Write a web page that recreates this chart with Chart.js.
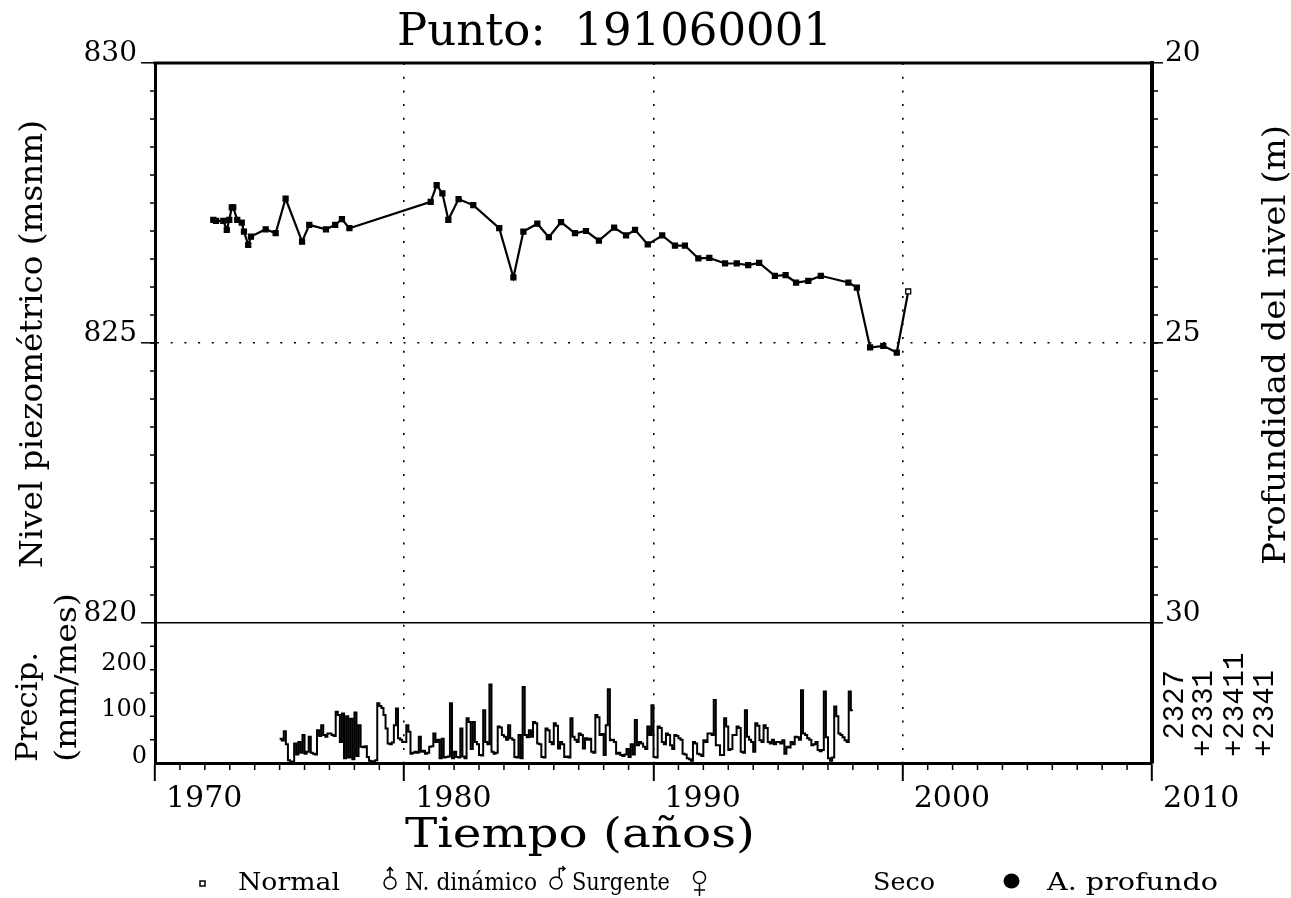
<!DOCTYPE html>
<html>
<head>
<meta charset="utf-8">
<script src="https://cdn.jsdelivr.net/npm/chart.js@4.4.1/dist/chart.umd.min.js"></script>
<style>
  html, body { margin: 0; padding: 0; background: #fff; }
  #wrap { width: 1291px; height: 898px; }
</style>
</head>
<body>
<div id="wrap"><canvas id="chart" width="1291" height="898"></canvas></div>
<script>
// ==================== DATOS ====================
const tituloPunto = 'Punto:  191060001';

// Nivel piezométrico medido (fecha decimal, msnm)
const nivelFechas = [1972.34, 1972.45, 1972.74, 1972.88, 1972.98, 1973.08, 1973.14, 1973.30, 1973.48, 1973.57,
    1973.74, 1973.85, 1974.44, 1974.84, 1975.24, 1975.90, 1976.19, 1976.86, 1977.23, 1977.50,
    1977.80, 1981.06, 1981.30, 1981.53, 1981.77, 1982.18, 1982.77, 1983.81, 1984.38, 1984.78,
    1985.34, 1985.80, 1986.29, 1986.85, 1987.29, 1987.81, 1988.42, 1988.90, 1989.26, 1989.77,
    1990.35, 1990.86, 1991.26, 1991.80, 1992.24, 1992.87, 1993.34, 1993.80, 1994.24, 1994.87,
    1995.30, 1995.72, 1996.21, 1996.71, 1997.82, 1998.16, 1998.69, 1999.22, 1999.76, 2000.22];
const nivelMsnm = [827.20, 827.18, 827.18, 827.02, 827.20, 827.42, 827.42, 827.20, 827.15, 826.99,
    826.75, 826.90, 827.03, 826.96, 827.58, 826.81, 827.11, 827.03, 827.11, 827.21,
    827.05, 827.52, 827.82, 827.67, 827.20, 827.57, 827.46, 827.05, 826.17, 826.99,
    827.13, 826.89, 827.16, 826.96, 827.00, 826.83, 827.06, 826.92, 827.02, 826.76,
    826.92, 826.74, 826.74, 826.51, 826.52, 826.42, 826.42, 826.39, 826.43, 826.20,
    826.21, 826.08, 826.11, 826.20, 826.08, 825.99, 824.92, 824.95, 824.83, 825.92];

// Precipitación mensual (mm/mes), un renglón por año
const precipAnios = [1975, 1976, 1977, 1978, 1979, 1980, 1981, 1982, 1983, 1984, 1985, 1986,
    1987, 1988, 1989, 1990, 1991, 1992, 1993, 1994, 1995, 1996, 1997];
const precipMm = [
    [52, 48, 68, 40, 6, 2, 3, 42, 18, 45, 22, 60],
    [20, 24, 56, 22, 20, 18, 70, 58, 81, 60, 56, 63],
    [63, 60, 58, 110, 103, 45, 106, 10, 100, 12, 95, 8],
    [108, 15, 81, 35, 34, 36, 13, 5, 3, 4, 6, 128],
    [122, 118, 103, 74, 42, 40, 44, 81, 117, 53, 50, 45],
    [45, 81, 67, 20, 22, 24, 22, 56, 24, 26, 20, 22],
    [35, 36, 63, 45, 50, 10, 52, 12, 13, 14, 128, 10],
    [24, 13, 12, 74, 14, 10, 96, 88, 30, 88, 45, 40],
    [17, 16, 113, 45, 40, 168, 24, 20, 22, 78, 76, 60],
    [56, 50, 81, 53, 50, 13, 12, 60, 10, 163, 60, 55],
    [70, 56, 88, 85, 42, 40, 13, 12, 74, 70, 45, 40],
    [85, 80, 31, 45, 40, 13, 14, 12, 96, 56, 50, 45],
    [63, 60, 31, 53, 50, 52, 24, 22, 103, 98, 60, 62],
    [17, 81, 158, 49, 50, 45, 20, 22, 17, 15, 18, 30],
    [13, 40, 18, 92, 38, 45, 42, 35, 30, 78, 60, 124],
    [13, 12, 78, 75, 45, 40, 63, 60, 38, 30, 60, 58],
    [53, 50, 20, 18, 10, 8, 5, 45, 42, 20, 18, 15],
    [49, 45, 63, 63, 60, 135, 38, 38, 17, 17, 96, 78],
    [28, 30, 60, 60, 78, 75, 24, 22, 113, 56, 50, 45],
    [24, 85, 80, 49, 45, 81, 75, 45, 42, 50, 40, 45],
    [45, 42, 49, 20, 35, 33, 45, 40, 56, 55, 50, 156],
    [63, 60, 53, 50, 38, 40, 45, 28, 25, 28, 153, 55],
    [10, 5, 12, 121, 100, 63, 60, 55, 49, 45, 153, 113]
];

// Ejes
const ticksTiempo = [1970, 1980, 1990, 2000, 2010];
const ticksNivel = [820, 825, 830];
const ticksProfundidad = [20, 25, 30];
const ticksPrecip = [0, 100, 200];
const estaciones = [' 2327', '+2331', '+23411', '+2341'];
const leyenda = ['Normal', 'N. dinámico', 'Surgente', 'Seco', 'A. profundo'];

// ==================== SERIES ====================
const puntosNivel = nivelFechas.map((f, i) => ({ x: f, y: nivelMsnm[i] }));
const ultimoNivel = puntosNivel.length - 1;

const puntosPrecip = [];
precipAnios.forEach((anio, i) => {
    precipMm[i].forEach((mm, m) => puntosPrecip.push({ x: anio + m / 12, y: mm }));
});
// cierra el último escalón al final del mes
const ultimoMes = puntosPrecip[puntosPrecip.length - 1];
puntosPrecip.push({ x: precipAnios[precipAnios.length - 1] + 1, y: ultimoMes.y });

// ==================== DIBUJO ====================
const SERIF = '"DejaVu Serif", "Liberation Serif", serif';
const MONO = '"Liberation Mono", "DejaVu Sans Mono", monospace';

// texto con ancho fijo (estirado/comprimido horizontalmente)
function rotulo(ctx, txt, x, y, size, ancho, ang, familia) {
    ctx.save();
    ctx.translate(x, y);
    if (ang) ctx.rotate(ang);
    ctx.font = size + 'px ' + (familia || SERIF);
    if (ancho) ctx.scale(ancho / ctx.measureText(txt).width, 1);
    ctx.textAlign = 'left';
    ctx.textBaseline = 'alphabetic';
    ctx.fillText(txt, 0, 0);
    ctx.restore();
}

function simboloFlecha(ctx, cx, cy, r, lateral) {
    ctx.beginPath();
    ctx.arc(cx, cy, r, 0, Math.PI * 2);
    if (lateral) {
        const x0 = cx + r * 0.55;
        ctx.moveTo(x0, cy - r * 0.8);
        ctx.lineTo(x0, cy - r * 2.4);
        ctx.lineTo(x0 + r * 0.9, cy - r * 2.4);
        ctx.moveTo(x0 + r * 0.5, cy - r * 2.8);
        ctx.lineTo(x0 + r * 0.95, cy - r * 2.4);
        ctx.lineTo(x0 + r * 0.5, cy - r * 2.0);
    } else {
        ctx.moveTo(cx, cy - r);
        ctx.lineTo(cx, cy - r * 2.5);
        ctx.moveTo(cx - r * 0.5, cy - r * 2.0);
        ctx.lineTo(cx, cy - r * 2.6);
        ctx.lineTo(cx + r * 0.5, cy - r * 2.0);
    }
    ctx.stroke();
}

const marco = {
    id: 'marco',
    afterDraw(chart) {
        const { ctx, chartArea: a } = chart;
        const { x, y, yP, yProf } = chart.scales;
        ctx.save();
        ctx.strokeStyle = '#000';
        ctx.fillStyle = '#000';

        // borde superior
        ctx.lineWidth = 3;
        ctx.beginPath();
        ctx.moveTo(a.left - 1.5, a.top);
        ctx.lineTo(a.right + 2, a.top);
        ctx.stroke();

        // marcas menores de los ejes
        ctx.lineWidth = 1.5;
        ctx.beginPath();
        for (let v = 820.5; v < 830; v += 0.5) {
            const py = y.getPixelForValue(v);
            ctx.moveTo(a.left - 5, py); ctx.lineTo(a.left, py);
        }
        for (let v = 20.5; v < 30; v += 0.5) {
            const py = yProf.getPixelForValue(v);
            ctx.moveTo(a.right, py); ctx.lineTo(a.right + 6, py);
        }
        for (let v = 50; v < 300; v += 50) {
            const py = yP.getPixelForValue(v);
            ctx.moveTo(a.left - 5, py); ctx.lineTo(a.left, py);
        }
        for (let yr = 1971; yr < 2010; yr++) {
            if (yr % 10 === 0) continue;
            const px = x.getPixelForValue(yr);
            ctx.moveTo(px, a.bottom); ctx.lineTo(px, a.bottom + 7);
        }
        ctx.stroke();

        // etiquetas del eje de precipitación
        ctx.font = '24px ' + SERIF;
        ctx.textAlign = 'right';
        ctx.textBaseline = 'alphabetic';
        ticksPrecip.forEach(v => ctx.fillText(String(v), 147, yP.getPixelForValue(v)));

        // título
        rotulo(ctx, tituloPunto, 397, 45, 45, 435);

        // títulos de ejes
        rotulo(ctx, 'Nivel piezométrico (msnm)', 42, 568, 32, 448, -Math.PI / 2);
        rotulo(ctx, 'Profundidad del nivel (m)', 1285, 565, 32, 440, -Math.PI / 2);
        rotulo(ctx, 'Precip.', 37, 762, 30, 110, -Math.PI / 2);
        rotulo(ctx, '(mm/mes)', 76, 762, 30, 169, -Math.PI / 2);
        rotulo(ctx, 'Tiempo (años)', 405, 847, 41, 350);

        // claves de estaciones pluviométricas
        const colEst = [1183, 1212, 1243, 1273];
        estaciones.forEach((t, i) => rotulo(ctx, t, colEst[i], 757, 29, null, -Math.PI / 2, MONO));

        // leyenda de tipos de medida
        ctx.lineWidth = 1.5;
        ctx.strokeRect(200, 881, 5, 5);
        simboloFlecha(ctx, 390, 883, 6, false);
        simboloFlecha(ctx, 556, 883, 6, true);
        ctx.beginPath();
        ctx.arc(699.5, 877.5, 6, 0, Math.PI * 2);
        ctx.moveTo(699.5, 883.5); ctx.lineTo(699.5, 896);
        ctx.moveTo(694, 890); ctx.lineTo(705, 890);
        ctx.stroke();
        ctx.beginPath();
        ctx.ellipse(1011.5, 881, 8, 7.5, 0, 0, Math.PI * 2);
        ctx.fill();

        const posLey = [[238, 102], [405, 132], [572, 98], [873, 62], [1047, 171]];
        leyenda.forEach((t, i) => rotulo(ctx, t, posLey[i][0], 890, 25, posLey[i][1]));

        ctx.restore();
    }
};

const transparente = 'rgba(0,0,0,0)';

new Chart(document.getElementById('chart'), {
    type: 'line',
    data: {
        datasets: [
            {
                label: 'Nivel',
                data: puntosNivel,
                yAxisID: 'y',
                borderColor: '#000',
                borderWidth: 2.2,
                tension: 0,
                pointStyle: 'rect',
                pointRadius: 3.5,
                pointBorderWidth: 1.3,
                pointBorderColor: '#000',
                pointBackgroundColor: c => c.dataIndex === ultimoNivel ? '#fff' : '#000'
            },
            {
                label: 'Precipitación',
                data: puntosPrecip,
                yAxisID: 'yP',
                stepped: true,
                borderColor: '#000',
                borderWidth: 2,
                pointRadius: 0
            }
        ]
    },
    options: {
        responsive: false,
        animation: false,
        layout: { padding: { top: 63, left: 0, right: 0, bottom: 0 } },
        plugins: { legend: { display: false }, tooltip: { enabled: false } },
        scales: {
            x: {
                type: 'linear',
                position: 'bottom',
                min: 1970,
                max: 2010,
                afterBuildTicks: s => { s.ticks = ticksTiempo.map(v => ({ value: v })); },
                afterFit: s => { s.height = 135; },
                grid: {
                    color: c => (c.tick && c.tick.value > 1970 && c.tick.value < 2010) ? '#000' : transparente,
                    lineWidth: 1.6,
                    tickColor: '#000',
                    tickLength: 18,
                    tickWidth: 2
                },
                border: { color: '#000', width: 3, dash: [2, 11.7] },
                ticks: {
                    color: '#000',
                    font: { family: SERIF, size: 30 },
                    align: 'start',
                    labelOffset: 11,
                    padding: 0,
                    maxRotation: 0,
                    autoSkip: false,
                    callback: v => String(v)
                }
            },
            y: {
                type: 'linear',
                position: 'left',
                min: 817.5,
                max: 830,
                afterBuildTicks: s => { s.ticks = ticksNivel.map(v => ({ value: v })); },
                afterFit: s => { s.width = 155; },
                grid: {
                    color: c => (c.tick && c.tick.value === 825) ? '#000' : transparente,
                    lineWidth: 1.6,
                    tickColor: '#000',
                    tickLength: 14,
                    tickWidth: 1.5
                },
                border: { color: '#000', width: 3, dash: [2, 11.7] },
                ticks: {
                    color: '#000',
                    font: { family: SERIF, size: 28 },
                    padding: 4,
                    labelOffset: -9,
                    callback: v => String(v)
                }
            },
            yP: {
                type: 'linear',
                position: 'left',
                display: false,
                min: 0,
                max: 1500
            },
            yProf: {
                type: 'linear',
                position: 'right',
                reverse: true,
                min: 20,
                max: 32.5,
                afterBuildTicks: s => { s.ticks = ticksProfundidad.map(v => ({ value: v })); },
                afterFit: s => { s.width = 139; },
                grid: {
                    color: c => (c.tick && c.tick.value === 30) ? '#000' : transparente,
                    lineWidth: 1.6,
                    tickColor: '#000',
                    tickLength: 11,
                    tickWidth: 1.5
                },
                border: { color: '#000', width: 4 },
                ticks: {
                    color: '#000',
                    font: { family: SERIF, size: 28 },
                    padding: 2,
                    labelOffset: -9,
                    callback: v => String(v)
                }
            }
        }
    },
    plugins: [marco]
});
</script>
</body>
</html>
